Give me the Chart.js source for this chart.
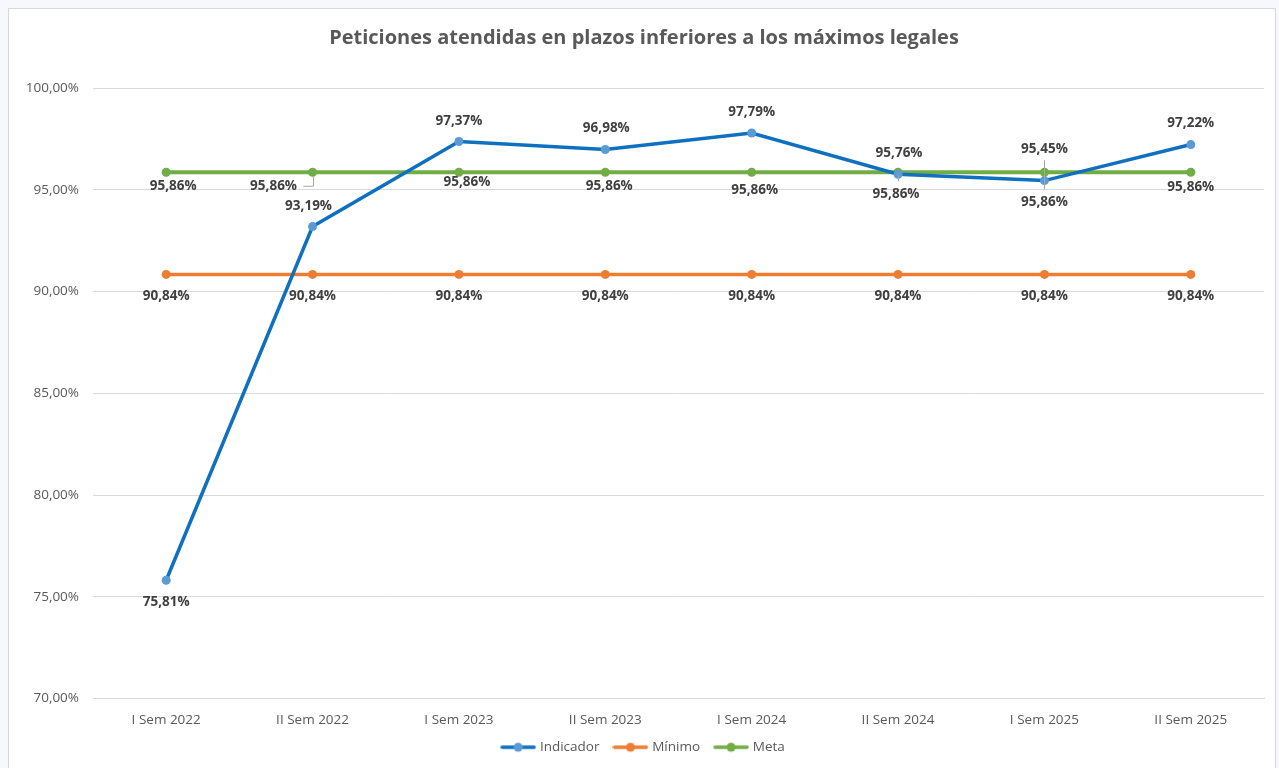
<!DOCTYPE html>
<html>
<head>
<meta charset="utf-8">
<script src="https://cdn.jsdelivr.net/npm/chart.js@4"></script>
<style>
  html, body { margin: 0; padding: 0; background: #ffffff; }
  #wrap { position: absolute; left: 0; top: 0; width: 1279px; height: 768px; }
</style>
</head>
<body>
<div id="wrap"><canvas id="c" width="1279" height="768"></canvas></div>
<script>
const categories = ['I Sem 2022', 'II Sem 2022', 'I Sem 2023', 'II Sem 2023', 'I Sem 2024', 'II Sem 2024', 'I Sem 2025', 'II Sem 2025'];
const indicador = [75.81, 93.19, 97.37, 96.98, 97.79, 95.76, 95.45, 97.22];
const minimo = [90.84, 90.84, 90.84, 90.84, 90.84, 90.84, 90.84, 90.84];
const meta = [95.86, 95.86, 95.86, 95.86, 95.86, 95.86, 95.86, 95.86];
const yTicks = [70, 75, 80, 85, 90, 95, 100];
const titleText = 'Peticiones atendidas en plazos inferiores a los máximos legales';

const FONT = "'Open Sans', 'DejaVu Sans', sans-serif";
const fmt = v => v.toFixed(2).replace('.', ',') + '%';

// label placement (styling only), offsets relative to each point
const labelStyle = {
  'Indicador': { dx: [0, -4, 0, 1, 0, 1, 0, 0], dy: [22, -20, -20, -21, -21, -21, -31, -21] },
  'Mínimo':    { dx: [0, 0, 0, 0, 0, 0, 0, 0], dy: [22, 22, 22, 22, 22, 22, 22, 22] },
  'Meta':      { dx: [7, -39, 8, 4, 3, -2, 0, 0], dy: [14, 14, 10, 14, 18, 22, 30, 15] }
};
// leader lines (relative to Meta points)
const leaders = {
  'Meta': { 1: [[0, 4], [0, 14], [-10, 14]], 5: [[0, 3], [0, 9]], 6: [[0, -12], [0, 17]] }
};

function legendImg(lineColor, dotColor) {
  const cv = document.createElement('canvas');
  cv.width = 36; cv.height = 12;
  const g = cv.getContext('2d');
  g.strokeStyle = lineColor; g.lineWidth = 3.5; g.lineCap = 'round';
  g.beginPath(); g.moveTo(2, 6); g.lineTo(34, 6); g.stroke();
  g.fillStyle = dotColor;
  g.beginPath(); g.arc(18, 6, 4.5, 0, Math.PI * 2); g.fill();
  return cv;
}

const frame = {
  id: 'frame',
  beforeDraw(chart) {
    const ctx = chart.ctx;
    ctx.save();
    ctx.fillStyle = '#f6f8fb';
    ctx.fillRect(0, 0, chart.width, chart.height);
    ctx.fillStyle = '#ffffff';
    ctx.fillRect(8, 8, chart.width - 11, chart.height);
    ctx.strokeStyle = '#d9d9d9';
    ctx.lineWidth = 1;
    ctx.strokeRect(8.5, 8.5, chart.width - 12, chart.height + 10);
    ctx.restore();
  }
};

const dataLabels = {
  id: 'dataLabels',
  afterDatasetsDraw(chart) {
    const ctx = chart.ctx;
    ctx.save();
    chart.data.datasets.forEach((ds, di) => {
      const meta = chart.getDatasetMeta(di);
      const ld = leaders[ds.label] || {};
      meta.data.forEach((pt, i) => {
        if (ld[i]) {
          ctx.strokeStyle = '#a6a6a6';
          ctx.lineWidth = 1;
          ctx.beginPath();
          ld[i].forEach((p, k) => {
            const x = Math.round(pt.x) + 0.5 + p[0], y = pt.y + p[1];
            if (k === 0) ctx.moveTo(x, y); else ctx.lineTo(x, y);
          });
          ctx.stroke();
        }
      });
    });
    chart.data.datasets.forEach((ds, di) => {
      const meta = chart.getDatasetMeta(di);
      const st = labelStyle[ds.label];
      ctx.font = 'bold 13.5px ' + FONT;
      ctx.fillStyle = '#404040';
      ctx.textAlign = 'center';
      ctx.textBaseline = 'middle';
      meta.data.forEach((pt, i) => {
        ctx.fillText(fmt(ds.data[i]), pt.x + st.dx[i], pt.y + st.dy[i]);
      });
    });
    ctx.restore();
  }
};

const colors = {
  'Indicador': { line: '#0f70c0', dot: '#5b9bd5' },
  'Mínimo': { line: '#ed7d31', dot: '#ed7d31' },
  'Meta': { line: '#70ad47', dot: '#70ad47' }
};

function mkDs(label, data, width) {
  return {
    label, data,
    borderColor: colors[label].line,
    backgroundColor: colors[label].dot,
    pointBackgroundColor: colors[label].dot,
    pointBorderColor: colors[label].dot,
    pointRadius: 4.5,
    pointBorderWidth: 0,
    pointHoverRadius: 4.5,
    borderWidth: width,
    tension: 0,
    fill: false
  };
}

new Chart(document.getElementById('c'), {
  type: 'line',
  data: {
    labels: categories,
    datasets: [
      mkDs('Indicador', indicador, 3.5),
      mkDs('Mínimo', minimo, 3.5),
      mkDs('Meta', meta, 4)
    ]
  },
  options: {
    responsive: false,
    animation: false,
    devicePixelRatio: 1,
    layout: { padding: { left: 24, right: 15, top: 0, bottom: 4 } },
    plugins: {
      title: {
        display: true,
        text: titleText,
        color: '#595959',
        font: { family: FONT, size: 20, weight: 'bold' },
        padding: { top: 26, bottom: 38 }
      },
      legend: {
        display: true,
        position: 'bottom',
        labels: {
          usePointStyle: true,
          pointStyleWidth: 30,
          padding: 16,
          color: '#595959',
          font: { family: FONT, size: 13.5 },
          generateLabels(chart) {
            return chart.data.datasets.map((ds, i) => ({
              text: ds.label,
              pointStyle: legendImg(colors[ds.label].line, colors[ds.label].dot),
              fillStyle: colors[ds.label].dot,
              strokeStyle: colors[ds.label].line,
              lineWidth: 0,
              hidden: false,
              datasetIndex: i,
              fontColor: '#595959'
            }));
          }
        }
      },
      tooltip: { enabled: false }
    },
    scales: {
      x: {
        offset: true,
        grid: { display: false, drawTicks: false },
        border: { display: true, color: '#d9d9d9', width: 1 },
        ticks: { color: '#595959', font: { family: FONT, size: 13.5 }, padding: 14, maxRotation: 0 },
        afterFit(scale) { scale.height = 26; }
      },
      y: {
        min: 70, max: 100,
        afterBuildTicks(scale) { scale.ticks = yTicks.map(v => ({ value: v })); },
        grid: { color: '#d9d9d9', lineWidth: 1, drawTicks: false },
        border: { display: false },
        ticks: {
          color: '#595959',
          font: { family: FONT, size: 13.5 },
          padding: 14,
          callback: v => fmt(v)
        },
        afterFit(scale) { scale.width = 69; }
      }
    }
  },
  plugins: [frame, dataLabels]
});
</script>
</body>
</html>
